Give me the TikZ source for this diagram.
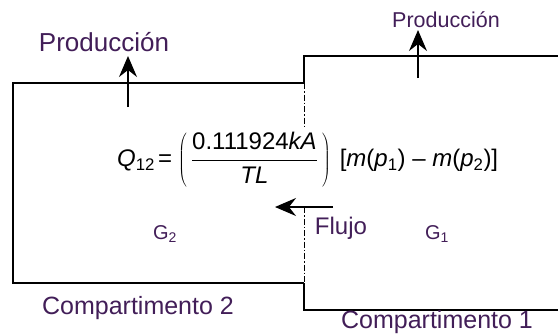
\documentclass[tikz,border=0pt]{standalone}
\usepackage{fontspec}
\setmainfont{Liberation Sans}
\usetikzlibrary{arrows.meta}
\definecolor{lblcol}{RGB}{66,30,88}
\tikzset{
  wall/.style={line width=1.6pt},
  seam/.style={line width=0.8pt, dash pattern=on 6pt off 2pt on 1.5pt off 2pt},
  flowarrow/.style={line width=1.6pt, -{Stealth[length=21pt,width=18pt,inset=7pt]}},
  lbl/.style={text=lblcol, inner sep=0pt}
}
\begin{document}
\begin{tikzpicture}[x=1pt,y=-1pt]
\useasboundingbox (0,0) rectangle (558,333);
% compartments
\draw[wall] (304,83) -- (13,83) -- (13,283) -- (304,283);
\draw[wall] (558,56) -- (304,56) -- (304,83);
\draw[wall] (304,283) -- (304,310) -- (558,310);
\draw[seam] (304,83) -- (304,128);
\draw[seam] (304,207) -- (304,283);
% labels
\node[lbl, font=\fontsize{26}{29}\selectfont] (prod2) at (104,42) {Producción};
\node[lbl, font=\fontsize{21.5}{24}\selectfont] (prod1) at (446,20) {Producción};
\node[lbl, font=\fontsize{24}{27}\selectfont] (flujo) at (341,228) {Flujo};
\node[lbl, font=\fontsize{20}{22}\selectfont] (g2) at (165,234) {G\textsubscript{2}};
\node[lbl, font=\fontsize{20}{22}\selectfont] (g1) at (437,234) {G\textsubscript{1}};
\node[lbl, font=\fontsize{25}{28}\selectfont] (comp2) at (138,308) {Compartimento 2};
\node[lbl, font=\fontsize{25}{28}\selectfont] (comp1) at (437,322) {Compartimento 1};
\node[inner sep=0pt, anchor=west, font=\fontsize{24}{28}\selectfont] (eq) at (117,160)
  {\textit{Q}\textsubscript{12}\hspace{3pt}=\hspace{6pt}$\displaystyle\left(\,\frac{\mbox{0.111924\textit{kA}}}{\mbox{\textit{TL}}}\,\right)$\hspace{9pt}[\textit{m}(\textit{p}\textsubscript{1}) -- \textit{m}(\textit{p}\textsubscript{2})]};
% arrows
\coordinate (s2) at (128,107);
\coordinate (e2) at (128,56);
\coordinate (s1) at (418,78);
\coordinate (e1) at (418,30);
\coordinate (fs) at (333,207);
\coordinate (fe) at (275,207);
\draw[flowarrow] (s2) -- (e2);
\draw[flowarrow] (s1) -- (e1);
\draw[flowarrow] (fs) -- (fe);
\end{tikzpicture}
\end{document}
